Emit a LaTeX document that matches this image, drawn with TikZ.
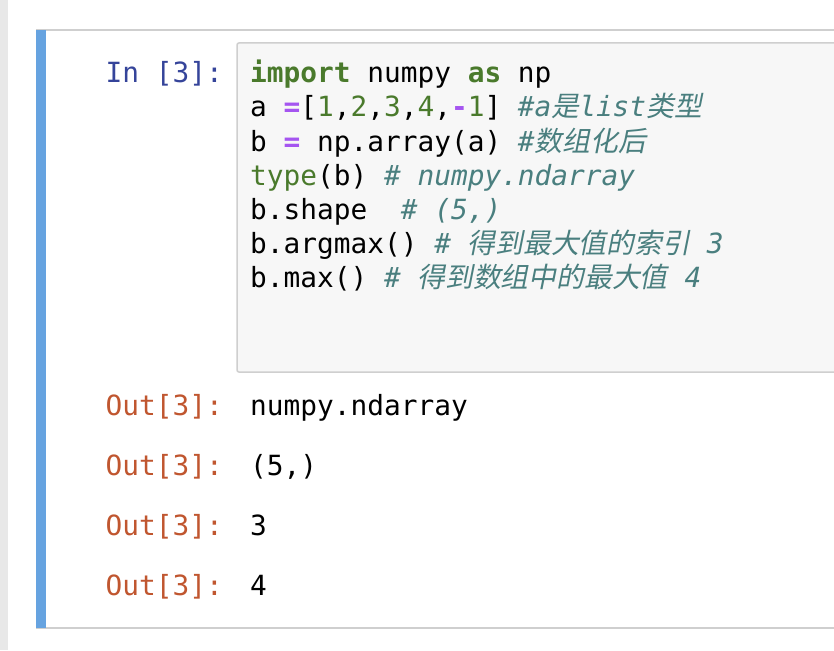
\documentclass[tikz,border=0pt]{standalone}
\usepackage{fontspec}
\newfontfamily\mono{DejaVu Sans Mono}
\newfontfamily\cjk[FakeSlant=0.2]{Noto Sans CJK SC}
\definecolor{kwc}{HTML}{4A7A2C}
\definecolor{cmc}{HTML}{4A7F7F}
\definecolor{opc}{HTML}{A555F0}
\definecolor{inc}{HTML}{35449A}
\definecolor{outc}{HTML}{C0562F}
\definecolor{barc}{HTML}{66A3E0}
\definecolor{brd}{HTML}{CFCFCF}
\definecolor{codebg}{HTML}{F7F7F7}
\newcommand\kw[1]{{\bfseries\color{kwc}#1}}
\newcommand\bi[1]{{\color{kwc}#1}}
\newcommand\nm[1]{{\color{kwc}#1}}
\newcommand\op[1]{{\bfseries\color{opc}#1}}
\newcommand\cm[1]{{\itshape\color{cmc}#1}}
\newcommand\cj[1]{{\cjk #1}}
\begin{document}
\begin{tikzpicture}[x=1pt,y=-1pt,
  code/.style={anchor=base west,inner sep=0pt,font=\mono\fontsize{27.8}{34}\selectfont},
  inlab/.style={code,anchor=base east,text=inc},
  outlab/.style={code,anchor=base east,text=outc}]
\useasboundingbox[fill=white] (0,0) rectangle (834,650);
\fill[black!9] (0,0) rectangle (8,650);
\draw[brd,line width=1.5pt] (36,30) -- (834,30) (36,628) -- (834,628);
\fill[barc] (36,30) rectangle (46,628);
\draw[brd,fill=codebg,line width=1.5pt,rounded corners=2pt] (237,43) rectangle (840,372);
\node[inlab] (in) at (223,83) {In [3]:};
\node[code] (l1) at (250,83) {\kw{import} numpy \kw{as} np};
\node[code] (l2) at (250,117) {a \op{=}[\nm{1},\nm{2},\nm{3},\nm{4},\op{-}\nm{1}] \cm{\#a\cj{是}list\cj{类型}}};
\node[code] (l3) at (250,151) {b \op{=} np.array(a) \cm{\#\cj{数组化后}}};
\node[code] (l4) at (250,185) {\bi{type}(b) \cm{\# numpy.ndarray}};
\node[code] (l5) at (250,219) {b.shape\ \ \cm{\# (5,)}};
\node[code] (l6) at (250,253) {b.argmax() \cm{\# \cj{得到最大值的索引} 3}};
\node[code] (l7) at (250,287) {b.max() \cm{\# \cj{得到数组中的最大值} 4}};
\node[outlab] (o1) at (223,415) {Out[3]:};
\node[code] (r1) at (250,415) {numpy.ndarray};
\node[outlab] (o2) at (223,475) {Out[3]:};
\node[code] (r2) at (250,475) {(5,)};
\node[outlab] (o3) at (223,535) {Out[3]:};
\node[code] (r3) at (250,535) {3};
\node[outlab] (o4) at (223,595) {Out[3]:};
\node[code] (r4) at (250,595) {4};
\end{tikzpicture}
\end{document}
